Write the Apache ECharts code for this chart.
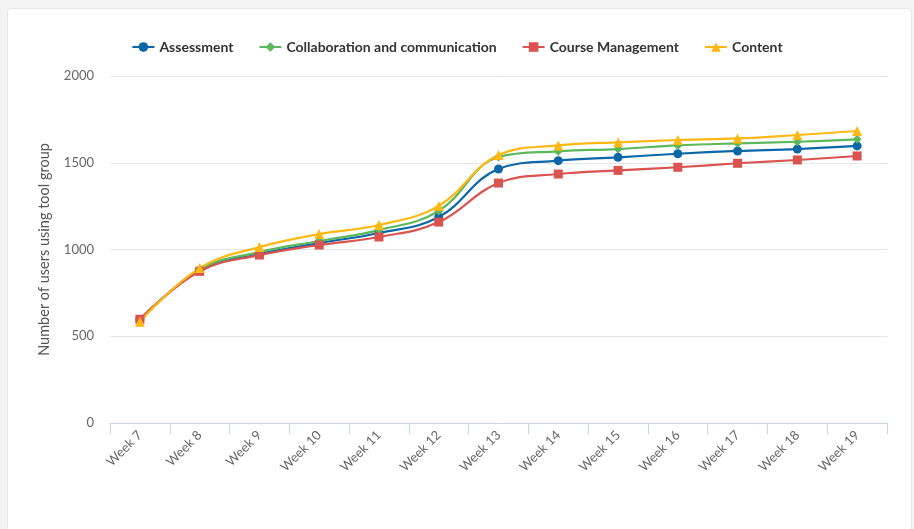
<!DOCTYPE html>
<html lang="en">
<head>
<meta charset="UTF-8">
<script src="https://cdn.jsdelivr.net/npm/echarts@6/dist/echarts.min.js"></script>
<title>Tool group usage</title>
<style>
  html, body { margin: 0; padding: 0; background: #f4f4f4; }
  #card { position: absolute; left: 7px; top: 8px; width: 903px; height: 540px;
          background: #fff; border: 1px solid #e8e8e8; border-radius: 4px; }
  #main { position: absolute; left: 0; top: 0; width: 914px; height: 529px; }
</style>
</head>
<body>
<div id="card"></div>
<div id="main"></div>
<script>
  // weeks on the x axis
  var weeks = ['Week 7', 'Week 8', 'Week 9', 'Week 10', 'Week 11', 'Week 12', 'Week 13',
               'Week 14', 'Week 15', 'Week 16', 'Week 17', 'Week 18', 'Week 19'];

  // users per tool group
  var assessment    = [595, 880, 974, 1037, 1095, 1187, 1464, 1512, 1531, 1552, 1568, 1579, 1597];
  var collaboration = [590, 885, 985, 1049, 1112, 1222, 1533, 1566, 1579, 1600, 1612, 1621, 1635];
  var courseMgmt    = [598, 874, 968, 1026, 1072, 1158, 1383, 1435, 1456, 1474, 1497, 1516, 1539];
  var content       = [584, 893, 1014, 1089, 1141, 1251, 1545, 1600, 1618, 1631, 1640, 1660, 1683];

  var font = 'Lato, "Noto Sans", sans-serif';

  function line(name, data, color, symbol, size) {
    return {
      name: name,
      type: 'line',
      smooth: 0.4,
      data: data,
      symbol: symbol,
      symbolSize: size,
      itemStyle: { color: color },
      lineStyle: { color: color, width: 2.2 }
    };
  }

  var myChart = echarts.init(document.getElementById('main'));

  var option = {
    animation: false,
    textStyle: { fontFamily: font },
    legend: {
      top: 35,
      left: 'center',
      itemGap: 25,
      itemWidth: 22,
      itemHeight: 12,
      textStyle: { fontFamily: font, fontSize: 14, fontWeight: 'bold', color: '#333' }
    },
    grid: { left: 110, right: 27, top: 76, bottom: 106 },
    xAxis: {
      type: 'category',
      data: weeks,
      boundaryGap: true,
      axisLine: { show: true, lineStyle: { color: '#ccd6eb', width: 1 } },
      axisTick: { show: true, alignWithLabel: false, length: 11, lineStyle: { color: '#ccd6eb' } },
      axisLabel: { rotate: 45, color: '#666', fontSize: 13, margin: 10, interval: 0 }
    },
    yAxis: {
      type: 'value',
      min: 0,
      max: 2000,
      interval: 500,
      name: 'Number of users using tool group',
      nameLocation: 'middle',
      nameGap: 58,
      nameTextStyle: { color: '#555', fontSize: 14.5 },
      axisLabel: { color: '#666', fontSize: 13, margin: 16, formatter: function (v) { return String(v); } },
      splitLine: { lineStyle: { color: '#e6e6e6' } }
    },
    series: [
      line('Assessment', assessment, '#0b67a8', 'circle', 9),
      line('Collaboration and communication', collaboration, '#5cb85c', 'diamond', 9),
      line('Course Management', courseMgmt, '#d9534f', 'rect', 9),
      line('Content', content, '#fdb813', 'triangle', 10)
    ]
  };

  myChart.setOption(option);
</script>
</body>
</html>
